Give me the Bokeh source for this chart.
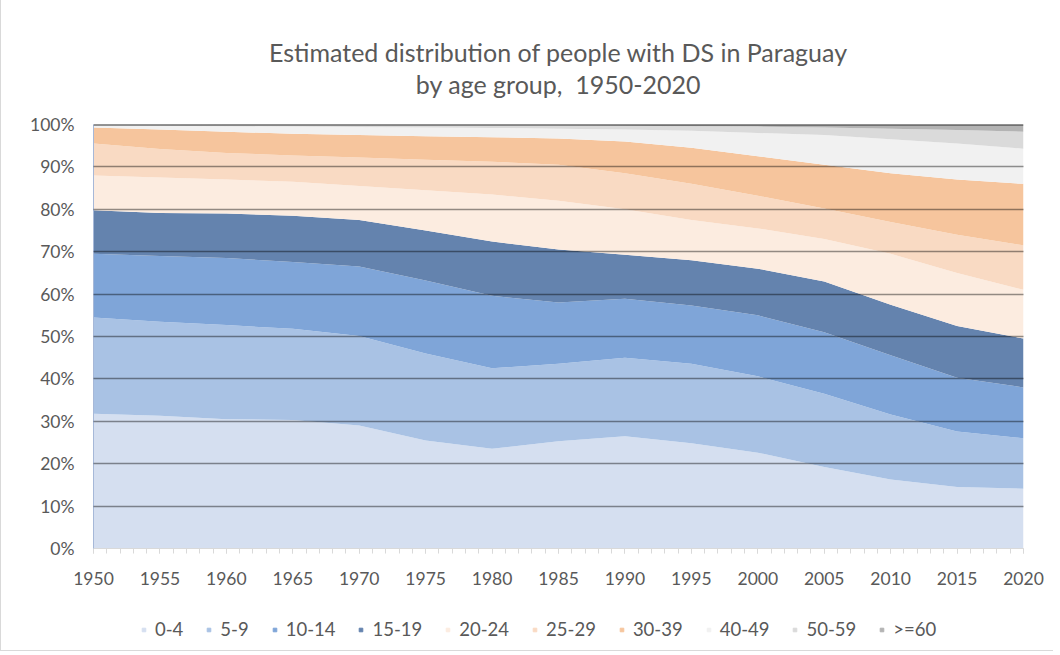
import numpy as np
from bokeh.plotting import figure
from bokeh.layouts import column
from bokeh.models import (ColumnDataSource, FixedTicker, PrintfTickFormatter,
                          Legend, LegendItem, Title, Span, Range1d)
from bokeh.embed import file_html
from bokeh.resources import INLINE

# ---------------- data (percent of people with DS, by age group) ----------------
years = [1950, 1955, 1960, 1965, 1970, 1975, 1980, 1985, 1990, 1995, 2000, 2005, 2010, 2015, 2020]
age_groups = ["0-4", "5-9", "10-14", "15-19", "20-24", "25-29", "30-39", "40-49", "50-59", ">=60"]

share_0_4   = [31.8, 31.3, 30.5, 30.3, 29.0, 25.5, 23.5, 25.3, 26.5, 24.8, 22.6, 19.2, 16.3, 14.5, 14.1]
share_5_9   = [22.7, 22.2, 22.2, 21.5, 21.1, 20.5, 19.0, 18.3, 18.5, 18.8, 18.0, 17.3, 15.3, 13.1, 11.9]
share_10_14 = [15.0, 15.5, 15.8, 15.8, 16.4, 17.2, 17.1, 14.4, 13.9, 13.7, 14.4, 14.5, 14.0, 12.7, 12.0]
share_15_19 = [10.3, 10.1, 10.5, 10.9, 11.0, 11.8, 12.8, 12.5, 10.4, 10.7, 11.0, 12.0, 11.9, 12.2, 11.5]
share_20_24 = [8.2, 8.4, 8.0, 8.0, 8.0, 9.5, 11.1, 11.5, 10.7, 9.5, 9.5, 10.0, 12.0, 12.5, 11.5]
share_25_29 = [7.5, 6.7, 6.3, 6.2, 6.7, 7.2, 7.7, 8.5, 8.5, 8.5, 7.7, 7.2, 7.5, 9.0, 10.5]
share_30_39 = [3.8, 4.6, 5.0, 5.1, 5.3, 5.5, 5.8, 6.2, 7.5, 8.5, 9.3, 10.3, 11.5, 13.0, 14.5]
share_40_49 = [0.5, 0.9, 1.3, 1.7, 1.9, 2.1, 2.2, 2.3, 2.8, 4.0, 5.5, 7.0, 8.0, 8.5, 8.3]
share_50_59 = [0.15, 0.25, 0.3, 0.4, 0.5, 0.55, 0.6, 0.8, 0.9, 1.1, 1.5, 1.8, 2.5, 3.2, 4.0]
share_60p   = [0.05, 0.05, 0.1, 0.1, 0.1, 0.15, 0.2, 0.2, 0.3, 0.4, 0.5, 0.7, 1.0, 1.3, 1.7]

y_ticks = [0, 10, 20, 30, 40, 50, 60, 70, 80, 90, 100]
x_ticks = [1950, 1955, 1960, 1965, 1970, 1975, 1980, 1985, 1990, 1995, 2000, 2005, 2010, 2015, 2020]

colors = ["#d5dff0", "#a9c2e4", "#7fa5d8", "#6483ae", "#fcece0",
          "#f9dac3", "#f6c59d", "#f1f1f1", "#dadada", "#b3b3b3"]

series = [share_0_4, share_5_9, share_10_14, share_15_19, share_20_24,
          share_25_29, share_30_39, share_40_49, share_50_59, share_60p]

# 100% stacked: normalise each year to 100
arr = np.array(series, dtype=float)
arr = arr / arr.sum(axis=0) * 100.0
keys = [f"g{i}" for i in range(len(age_groups))]
data = {"year": years}
for k, row in zip(keys, arr):
    data[k] = list(row)
src = ColumnDataSource(data)

FONT = "Lato"
TXT = "#595959"

p = figure(frame_width=930, frame_height=424, x_range=(1950, 2020), y_range=(0, 100),
           output_backend="svg", toolbar_location=None,
           min_border_left=92, min_border_right=30, min_border_top=124, min_border_bottom=56,
           background_fill_color="white", border_fill_color="white")
p.title = None
p.outline_line_color = None

rends = p.varea_stack(stackers=keys, x="year", source=src, color=colors)

# grid lines drawn over the areas (appear as darker lines through the bands)
p.xgrid.visible = False
p.ygrid.ticker = FixedTicker(ticks=y_ticks)
p.ygrid.level = "overlay"
p.ygrid.grid_line_color = "black"
p.ygrid.grid_line_alpha = 0.42
p.ygrid.grid_line_width = 1.6
p.add_layout(Span(location=100, dimension="width", line_color="#222222",
                  line_width=2, line_alpha=0.9))

# axes
p.yaxis.ticker = FixedTicker(ticks=y_ticks)
p.yaxis.formatter = PrintfTickFormatter(format="%d%%")
p.yaxis.axis_line_color = "#a6b8d8"
p.yaxis.major_tick_line_color = None
p.yaxis.minor_tick_line_color = None
p.yaxis.major_label_standoff = 13

p.xaxis.ticker = FixedTicker(ticks=x_ticks, minor_ticks=list(range(1950, 2021)))
p.xaxis.axis_line_color = "#d9d9d9"
p.xaxis.major_tick_line_color = "#d9d9d9"
p.xaxis.minor_tick_line_color = "#d9d9d9"
p.xaxis.major_tick_out = 5
p.xaxis.major_tick_in = 0
p.xaxis.minor_tick_out = 5
p.xaxis.minor_tick_in = 0
p.xaxis.major_label_standoff = 18

for ax in (p.xaxis[0], p.yaxis[0]):
    ax.major_label_text_font = FONT
    ax.major_label_text_font_size = "17.5px"
    ax.major_label_text_color = TXT

# titles (added bottom-up)
p.add_layout(Title(text=" ", text_font_size="20px", text_font=FONT, standoff=0), "above")
p.add_layout(Title(text="by age group,\u00a0 1950-2020", align="center", standoff=0,
                   text_font=FONT, text_font_size="25px", text_font_style="normal",
                   text_color=TXT), "above")
p.add_layout(Title(text="Estimated distribution of people with DS in Paraguay", align="center",
                   standoff=0, text_font=FONT, text_font_size="25px", text_font_style="normal",
                   text_color=TXT), "above")

# ---------------- legend strip (separate figure underneath) ----------------
lg = figure(width=1052, height=46, x_range=Range1d(0, 1), y_range=Range1d(0, 1),
            output_backend="svg", toolbar_location=None, min_border=0,
            background_fill_color="white", border_fill_color="white")
lg.axis.visible = False
lg.grid.visible = False
lg.outline_line_color = None
lg.title = None
# proxy markers (outside the visible range) that only supply the legend swatches
proxies = [lg.scatter(x=[-5], y=[-5], marker="square", size=9, color=c) for c in colors]
items = [LegendItem(label=g, renderers=[r]) for g, r in zip(age_groups, proxies)]
leg = Legend(items=items, orientation="horizontal", location=(46, 10),
             glyph_width=9, glyph_height=9, label_standoff=7, spacing=21,
             label_text_font=FONT, label_text_font_size="18.5px", label_text_color=TXT,
             label_height=20, background_fill_alpha=0, border_line_color=None,
             margin=0, padding=2)
lg.add_layout(leg, "center")

layout = column(p, lg, spacing=0)
layout.styles = {"border-left": "1px solid #d9d9d9", "border-bottom": "1px solid #d9d9d9"}

open("out.html", "w").write(file_html(layout, INLINE))
